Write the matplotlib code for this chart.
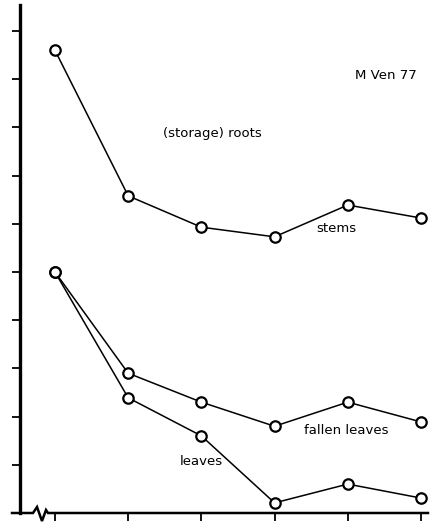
import matplotlib
matplotlib.use("Agg")
import matplotlib.pyplot as plt

# sampling occasions along the x axis
harvest = [0, 1, 2, 3, 4, 5]

roots_stems = [9.6, 6.58, 5.93, 5.73, 6.39, 6.12]
fallen_leaves = [5.0, 2.9, 2.3, 1.8, 2.3, 1.89]
leaves = [5.0, 2.39, 1.6, 0.21, 0.6, 0.31]

y_ticks = [1, 2, 3, 4, 5, 6, 7, 8, 9, 10]

W, H = 438, 526
fig = plt.figure(figsize=(W / 100, H / 100), dpi=100)
ax = fig.add_axes([20 / W, 13 / H, 408 / W, 508 / H])

ax.set_xlim(-0.478, 5.096)
ax.set_ylim(0, 10.54)

style = dict(color="black", lw=1.1, marker="o", ms=7.5, mfc="white",
             mec="black", mew=1.6, clip_on=False, zorder=3)
ax.plot(harvest, roots_stems, **style)
ax.plot(harvest, fallen_leaves, **style)
ax.plot(harvest, leaves, **style)

for s in ("top", "right", "bottom"):
    ax.spines[s].set_visible(False)
ax.spines["left"].set_linewidth(2.4)

ax.set_yticks(y_ticks)
ax.set_xticks(harvest)
ax.tick_params(axis="y", direction="out", length=6, width=1.3, labelleft=False)
ax.tick_params(axis="x", direction="out", length=6, width=1.3, labelbottom=False)

# x axis drawn by hand with a scale break near the origin
px = lambda p: -0.478 + (p - 20) / 73.2
py = lambda p: (513 - p) / 48.2
bx = [px(12), px(33), px(37), px(42), px(46), px(48), px(428)]
by = [py(513), py(513), py(507), py(521), py(510), py(513), py(513)]
ax.plot(bx, by, color="black", lw=1.8, clip_on=False, zorder=2,
        solid_joinstyle="miter")

txt = dict(fontsize=9.5, color="black", family="DejaVu Sans")
ax.text(px(355), py(75), "M Ven 77", va="center", ha="left", **txt)
ax.text(px(163), py(133), "(storage) roots", va="center", ha="left", **txt)
ax.text(px(316), py(228), "stems", va="center", ha="left", **txt)
ax.text(px(304), py(430), "fallen leaves", va="center", ha="left", **txt)
ax.text(px(180), py(461), "leaves", va="center", ha="left", **txt)

fig.savefig("out.png", dpi=100)
